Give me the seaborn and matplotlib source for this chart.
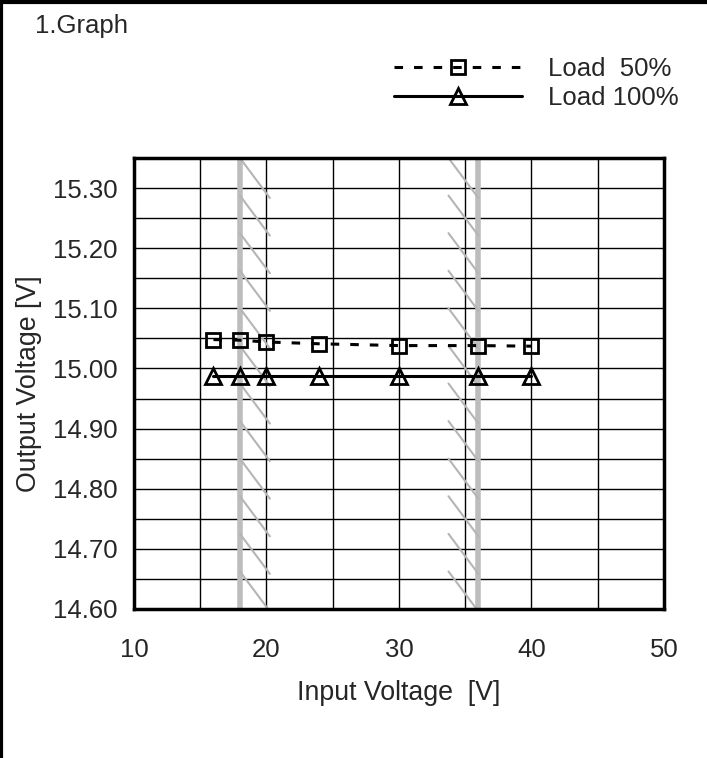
import numpy as np
import pandas as pd
import matplotlib
matplotlib.use('Agg')
import matplotlib.pyplot as plt
from matplotlib.lines import Line2D
import seaborn as sns

# values
vin = [16, 18, 20, 24, 30, 36, 40]
load_50 = [15.048, 15.047, 15.044, 15.041, 15.038, 15.038, 15.037]
load_100 = [14.987, 14.987, 14.987, 14.987, 14.987, 14.987, 14.987]
band_edges = [18, 36]
x_ticks = [10, 20, 30, 40, 50]
y_ticks = [14.60, 14.70, 14.80, 14.90, 15.00, 15.10, 15.20, 15.30]

df = pd.DataFrame({'vin': vin, 'load_50': load_50, 'load_100': load_100})

sns.set_style('white')
plt.rcParams['font.family'] = ['Liberation Sans', 'DejaVu Sans']
fs = 18.5

fig = plt.figure(figsize=(7.07, 7.58), dpi=100)
ax = fig.add_axes([0.1895, 0.1966, 0.7495, 0.595])

ax.set_xlim(10, 50)
ax.set_ylim(14.60, 15.35)

# grid every 5 V / 0.05 V
ax.set_xticks(np.arange(10, 51, 5), minor=True)
ax.set_yticks(np.arange(14.60, 15.351, 0.05), minor=True)
ax.set_xticks(x_ticks)
ax.set_yticks(y_ticks)
ax.grid(True, which='both', color='black', lw=1.0)
ax.set_axisbelow(True)

# gray input-range bands with hatch strokes
gray = '#bdbdbd'
for xe in band_edges:
    ax.axvline(xe, color=gray, lw=4, zorder=1.5)
starts = np.arange(15.35, 14.60, -0.0625)
for y0 in starts:
    ax.plot([18, 20.26], [y0, y0 - 0.0667], color='#b5b5b5', lw=1.5, zorder=1.6)
    ax.plot([33.74, 36], [y0, y0 - 0.0667], color='#b5b5b5', lw=1.5, zorder=1.6)

sns.lineplot(data=df, x='vin', y='load_50', ax=ax, color='black', lw=2.2,
             linestyle=(0, (2.8, 3.6)), marker='s', markersize=10.5,
             markerfacecolor='none', markeredgecolor='black', markeredgewidth=2,
             label='Load  50%', zorder=3)
sns.lineplot(data=df, x='vin', y='load_100', ax=ax, color='black', lw=2.2,
             marker='^', markersize=11.5,
             markerfacecolor='none', markeredgecolor='black', markeredgewidth=2,
             label='Load 100%', zorder=3)

ax.set_xticklabels([str(t) for t in x_ticks], fontsize=fs)
ax.set_yticklabels([f'{t:.2f}' for t in y_ticks], fontsize=fs)
ax.tick_params(axis='both', which='both', length=0)
ax.tick_params(axis='x', pad=21)
ax.tick_params(axis='y', pad=12)

for s in ax.spines.values():
    s.set_visible(True)
    s.set_color('black')
    s.set_linewidth(2.5)

ax.set_xlabel('Input Voltage  [V]', fontsize=19.3, labelpad=13)
ax.set_ylabel('Output Voltage [V]', fontsize=19.3, labelpad=8)

leg = ax.legend(loc='upper right', bbox_to_anchor=(0.978, 0.942),
                bbox_transform=fig.transFigure, frameon=False, fontsize=fs,
                handlelength=5.0, handletextpad=1.0, labelspacing=0.2,
                borderpad=0)
for h in leg.legend_handles:
    h.set_markerfacecolor('none')

fig.text(0.049, 0.966, '1.Graph', fontsize=fs, ha='left', va='center')

# figure frame (left and top edges)
fig.add_artist(Line2D([0.002, 0.002], [0, 1], transform=fig.transFigure, color='black', lw=3))
fig.add_artist(Line2D([0, 1], [0.998, 0.998], transform=fig.transFigure, color='black', lw=3))

fig.savefig('out.png', dpi=100)
